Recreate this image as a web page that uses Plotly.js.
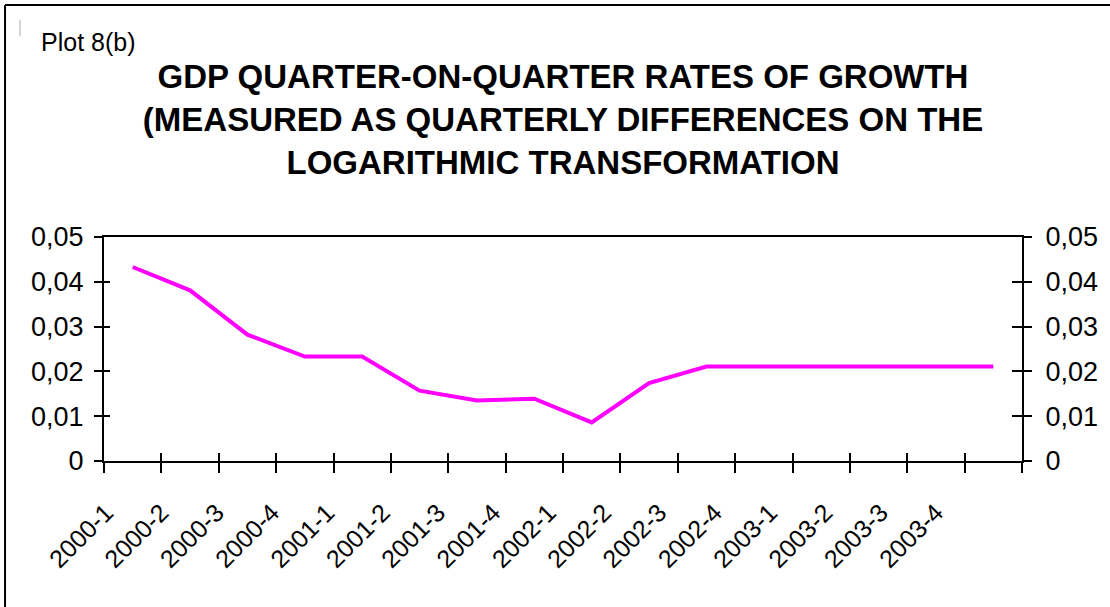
<!DOCTYPE html>
<html>
<head>
<meta charset="utf-8">
<script src="https://cdn.plot.ly/plotly-3.0.1.min.js"></script>
<style>
  html, body { margin: 0; padding: 0; background: #fff; }
  #chart { width: 1110px; height: 607px; }
</style>
</head>
<body>
<div id="chart"></div>
<script>
// ---- data ----
const quarters = ["2000-1","2000-2","2000-3","2000-4","2001-1","2001-2","2001-3","2001-4",
                  "2002-1","2002-2","2002-3","2002-4","2003-1","2003-2","2003-3","2003-4"];
const growth = [0.0433, 0.0381, 0.0282, 0.0233, 0.0233, 0.0157, 0.0135, 0.0139,
                0.0086, 0.0174, 0.0211, 0.0211, 0.0211, 0.0211, 0.0211, 0.0211];
const yTickVals = [0, 0.01, 0.02, 0.03, 0.04, 0.05];
const yTickText = ["0", "0,01", "0,02", "0,03", "0,04", "0,05"];
const chartTitle = "GDP QUARTER-ON-QUARTER RATES OF GROWTH<br>(MEASURED AS QUARTERLY DIFFERENCES ON THE<br>LOGARITHMIC TRANSFORMATION";
const plotLabel = "Plot 8(b)";

const FONT = "Liberation Sans, Arial, sans-serif";
const catRange = [-0.5, quarters.length - 0.5];
const yRange = [0, 0.05];

const traces = [
  { x: quarters, y: growth, type: "scatter", mode: "lines",
    line: { color: "#FF00FF", width: 4 }, xaxis: "x", yaxis: "y", hoverinfo: "x+y" },
  { x: quarters, y: growth, type: "scatter", mode: "none", xaxis: "x2", yaxis: "y3", hoverinfo: "skip", showlegend: false },
  { x: quarters, y: growth, type: "scatter", mode: "none", xaxis: "x3", yaxis: "y2", hoverinfo: "skip", showlegend: false },
  { x: quarters, y: growth, type: "scatter", mode: "none", xaxis: "x", yaxis: "y4", hoverinfo: "skip", showlegend: false }
];

const layout = {
  width: 1110, height: 607,
  margin: { l: 104, r: 88, t: 237, b: 146, pad: 0 },
  paper_bgcolor: "#fff", plot_bgcolor: "#fff",
  showlegend: false,
  font: { family: FONT, color: "#000" },
  title: {
    text: chartTitle,
    font: { family: FONT, size: 33, color: "#000", weight: "bold" },
    x: 0.5, xref: "paper", xanchor: "center",
    y: 0.855, yref: "container", yanchor: "top"
  },
  xaxis: {
    type: "category", range: catRange, tickson: "boundaries",
    ticks: "outside", ticklen: 10, tickwidth: 2, tickcolor: "#000",
    showticklabels: false, showgrid: false, zeroline: false,
    showline: true, linecolor: "#000", linewidth: 2, mirror: true,
    fixedrange: true
  },
  xaxis2: {
    type: "category", overlaying: "x", anchor: "y", range: catRange, tickson: "boundaries",
    ticks: "inside", ticklen: 8, tickwidth: 2, tickcolor: "#000",
    showticklabels: false, showgrid: false, zeroline: false, showline: false
  },
  xaxis3: {
    type: "category", overlaying: "x", anchor: "y", range: [-0.036, 16.555],
    ticks: "", showticklabels: true, tickangle: -45,
    tickfont: { family: FONT, size: 25, color: "#000" },
    ticklabelstandoff: 31,
    showgrid: false, zeroline: false, showline: false
  },
  yaxis: {
    range: yRange, tickvals: yTickVals, ticktext: yTickText,
    ticks: "outside", ticklen: 8, tickwidth: 2, tickcolor: "#000",
    tickfont: { family: FONT, size: 27, color: "#000" },
    ticklabelstandoff: 5,
    showgrid: false, zeroline: false,
    showline: true, linecolor: "#000", linewidth: 2,
    fixedrange: true
  },
  yaxis2: {
    overlaying: "y", side: "right", anchor: "x", range: yRange,
    tickvals: yTickVals, ticktext: yTickText,
    ticks: "outside", ticklen: 8, tickwidth: 2, tickcolor: "#000",
    tickfont: { family: FONT, size: 27, color: "#000" },
    ticklabelstandoff: 8,
    showgrid: false, zeroline: false,
    showline: true, linecolor: "#000", linewidth: 2
  },
  yaxis3: {
    overlaying: "y", side: "left", anchor: "x", range: yRange, tickvals: yTickVals,
    ticks: "inside", ticklen: 6, tickwidth: 2, tickcolor: "#000",
    showticklabels: false, showgrid: false, zeroline: false, showline: false
  },
  yaxis4: {
    overlaying: "y", side: "right", anchor: "x", range: yRange, tickvals: yTickVals,
    ticks: "inside", ticklen: 10, tickwidth: 2, tickcolor: "#000",
    showticklabels: false, showgrid: false, zeroline: false, showline: false
  },
  annotations: [{
    text: plotLabel, xref: "paper", yref: "paper",
    x: -0.0708, y: 1.942, xanchor: "left", yanchor: "top",
    showarrow: false, font: { family: FONT, size: 25, color: "#000" }
  }],
  shapes: [
    // outer frame: top and left edges
    { type: "line", xref: "paper", yref: "paper", x0: -0.1078, x1: 1.1, y0: 2.0357, y1: 2.0357,
      line: { color: "#000", width: 2 } },
    { type: "line", xref: "paper", yref: "paper", x0: -0.1078, x1: -0.1078, y0: 2.0357, y1: -0.7,
      line: { color: "#000", width: 2 } },
    // small grey mark at top-left
    { type: "line", xref: "paper", yref: "paper", x0: -0.0915, x1: -0.0915, y0: 1.969, y1: 1.897,
      line: { color: "#aaaaaa", width: 1 } }
  ]
};

Plotly.newPlot("chart", traces, layout, { displayModeBar: false, staticPlot: true });
</script>
</body>
</html>
